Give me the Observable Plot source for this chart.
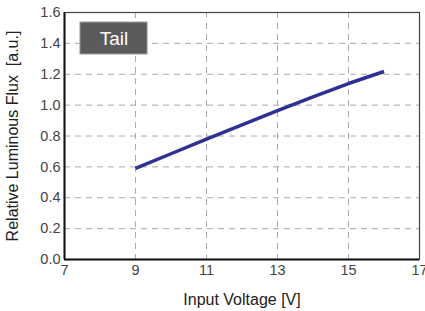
<!DOCTYPE html>
<html><head><meta charset="utf-8">
<script src="https://cdn.jsdelivr.net/npm/d3@7"></script>
<script src="https://cdn.jsdelivr.net/npm/@observablehq/plot@0.6"></script>
<style>body{margin:0;background:#fff}</style>
</head><body><div id="chart"></div>
<script>
const voltage = [9, 10, 11, 12, 13, 14, 15, 16];
const flux = [0.59, 0.685, 0.78, 0.872, 0.965, 1.053, 1.14, 1.218];
const xTicks = [7, 9, 11, 13, 15, 17];
const yTicks = [0, 0.2, 0.4, 0.6, 0.8, 1.0, 1.2, 1.4, 1.6];
const xGrid = [9, 11, 13, 15];
const yGrid = [0.2, 0.4, 0.6, 0.8, 1.0, 1.2, 1.4];
const labelText = ["Tail"];
const labelBox = [{x1: 7.45, x2: 9.34, y1: 1.328, y2: 1.535}];

const data = voltage.map((v, i) => ({v, f: flux[i]}));
const font = "Liberation Sans, Arial, sans-serif";

const chart = Plot.plot({
  width: 425, height: 311,
  marginLeft: 64, marginRight: 6, marginTop: 12, marginBottom: 52,
  style: {fontFamily: font, fontSize: "14.5px", color: "#444", background: "#fff"},
  x: {domain: [7, 17], ticks: xTicks, tickSize: 0, tickPadding: 5, label: "Input Voltage [V]", labelArrow: "none", labelAnchor: "center", labelOffset: 45, tickFormat: d => d},
  y: {domain: [0, 1.6], ticks: yTicks, tickSize: 0, tickPadding: 4, label: "Relative Luminous Flux  [a.u.]", labelArrow: "none", labelAnchor: "center", labelOffset: 58, tickFormat: d3.format(".1f")},
  marks: [
    Plot.ruleX(xGrid, {stroke: "#aaa", strokeDasharray: "6,5", strokeWidth: 1}),
    Plot.ruleY(yGrid, {stroke: "#aaa", strokeDasharray: "6,5", strokeWidth: 1}),
    Plot.frame({stroke: "#444", strokeWidth: 1.2}),
    Plot.ruleX([7], {stroke: "#111", strokeWidth: 2}),
    Plot.ruleY([0], {stroke: "#111", strokeWidth: 2}),
    Plot.rect(labelBox, {x1: "x1", x2: "x2", y1: "y1", y2: "y2", fill: "#5b5b5d", stroke: "#999", strokeWidth: 1}),
    Plot.text(labelText, {x: (labelBox[0].x1 + labelBox[0].x2) / 2, y: (labelBox[0].y1 + labelBox[0].y2) / 2, text: d => d, fill: "#fff", fontSize: 19, fontFamily: font}),
    Plot.line(data, {x: "v", y: "f", stroke: "#2e3192", strokeWidth: 3.5, strokeLinecap: "butt"})
  ]
});
chart.querySelectorAll("[aria-label='x-axis label'] text, [aria-label='y-axis label'] text").forEach(t => { t.style.fontSize = "16px"; t.setAttribute("fill", "#222"); });
document.getElementById("chart").append(chart);
</script>
</body></html>
